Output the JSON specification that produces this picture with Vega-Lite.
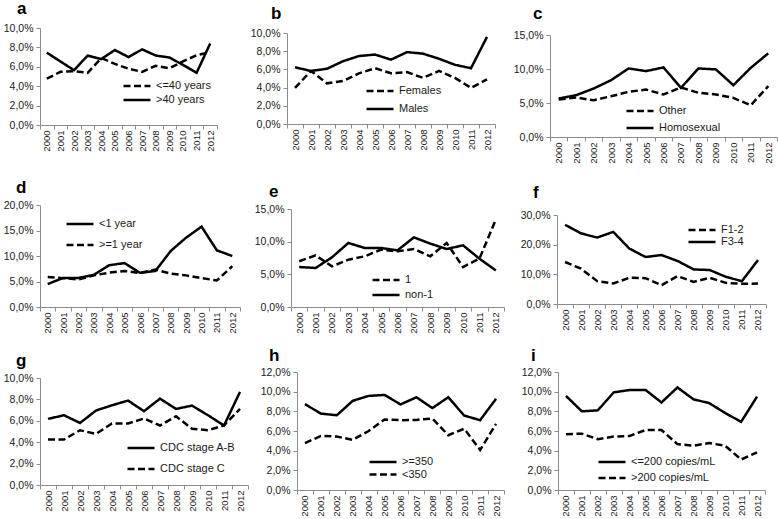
{
"$schema": "https://vega.github.io/schema/vega-lite/v6.json",
"padding": {"left": 0, "top": 0, "right": 0, "bottom": 0},
"background": "white",
"datasets": {
"a": [
{"year":2000,"g":">40 years","v":7.46},{"year":2001,"g":">40 years","v":6.55},{"year":2002,"g":">40 years","v":5.65},{"year":2003,"g":">40 years","v":7.16},{"year":2004,"g":">40 years","v":6.8},{"year":2005,"g":">40 years","v":7.73},{"year":2006,"g":">40 years","v":7.0},{"year":2007,"g":">40 years","v":7.8},{"year":2008,"g":">40 years","v":7.16},{"year":2009,"g":">40 years","v":6.96},{"year":2010,"g":">40 years","v":6.2},{"year":2011,"g":">40 years","v":5.38},{"year":2012,"g":">40 years","v":8.4},
{"year":2000,"g":"<=40 years","v":4.77},{"year":2001,"g":"<=40 years","v":5.48},{"year":2002,"g":"<=40 years","v":5.55},{"year":2003,"g":"<=40 years","v":5.38},{"year":2004,"g":"<=40 years","v":6.9},{"year":2005,"g":"<=40 years","v":6.3},{"year":2006,"g":"<=40 years","v":5.8},{"year":2007,"g":"<=40 years","v":5.48},{"year":2008,"g":"<=40 years","v":6.1},{"year":2009,"g":"<=40 years","v":5.85},{"year":2010,"g":"<=40 years","v":6.55},{"year":2011,"g":"<=40 years","v":7.2},{"year":2012,"g":"<=40 years","v":7.5}
],
"b": [
{"year":2000,"g":"Males","v":6.23},{"year":2001,"g":"Males","v":5.83},{"year":2002,"g":"Males","v":6.07},{"year":2003,"g":"Males","v":6.9},{"year":2004,"g":"Males","v":7.47},{"year":2005,"g":"Males","v":7.63},{"year":2006,"g":"Males","v":7.07},{"year":2007,"g":"Males","v":7.9},{"year":2008,"g":"Males","v":7.73},{"year":2009,"g":"Males","v":7.17},{"year":2010,"g":"Males","v":6.5},{"year":2011,"g":"Males","v":6.13},{"year":2012,"g":"Males","v":9.57},
{"year":2000,"g":"Females","v":3.97},{"year":2001,"g":"Females","v":5.83},{"year":2002,"g":"Females","v":4.47},{"year":2003,"g":"Females","v":4.73},{"year":2004,"g":"Females","v":5.57},{"year":2005,"g":"Females","v":6.13},{"year":2006,"g":"Females","v":5.57},{"year":2007,"g":"Females","v":5.7},{"year":2008,"g":"Females","v":5.07},{"year":2009,"g":"Females","v":5.83},{"year":2010,"g":"Females","v":5.07},{"year":2011,"g":"Females","v":3.97},{"year":2012,"g":"Females","v":4.9}
],
"c": [
{"year":2000,"g":"Homosexual","v":5.66},{"year":2001,"g":"Homosexual","v":6.15},{"year":2002,"g":"Homosexual","v":7.13},{"year":2003,"g":"Homosexual","v":8.36},{"year":2004,"g":"Homosexual","v":10.08},{"year":2005,"g":"Homosexual","v":9.69},{"year":2006,"g":"Homosexual","v":10.23},{"year":2007,"g":"Homosexual","v":7.23},{"year":2008,"g":"Homosexual","v":10.08},{"year":2009,"g":"Homosexual","v":9.94},{"year":2010,"g":"Homosexual","v":7.62},{"year":2011,"g":"Homosexual","v":10.18},{"year":2012,"g":"Homosexual","v":12.3},
{"year":2000,"g":"Other","v":5.5},{"year":2001,"g":"Other","v":5.8},{"year":2002,"g":"Other","v":5.4},{"year":2003,"g":"Other","v":6.0},{"year":2004,"g":"Other","v":6.64},{"year":2005,"g":"Other","v":6.98},{"year":2006,"g":"Other","v":6.25},{"year":2007,"g":"Other","v":7.28},{"year":2008,"g":"Other","v":6.5},{"year":2009,"g":"Other","v":6.25},{"year":2010,"g":"Other","v":5.75},{"year":2011,"g":"Other","v":4.67},{"year":2012,"g":"Other","v":7.48}
],
"d": [
{"year":2000,"g":"<1 year","v":4.5},{"year":2001,"g":"<1 year","v":5.7},{"year":2002,"g":"<1 year","v":5.7},{"year":2003,"g":"<1 year","v":6.3},{"year":2004,"g":"<1 year","v":8.2},{"year":2005,"g":"<1 year","v":8.6},{"year":2006,"g":"<1 year","v":6.7},{"year":2007,"g":"<1 year","v":7.07},{"year":2008,"g":"<1 year","v":11.0},{"year":2009,"g":"<1 year","v":13.6},{"year":2010,"g":"<1 year","v":15.76},{"year":2011,"g":"<1 year","v":11.1},{"year":2012,"g":"<1 year","v":10.0},
{"year":2000,"g":">=1 year","v":5.86},{"year":2001,"g":">=1 year","v":5.66},{"year":2002,"g":">=1 year","v":5.4},{"year":2003,"g":">=1 year","v":6.2},{"year":2004,"g":">=1 year","v":6.73},{"year":2005,"g":">=1 year","v":7.07},{"year":2006,"g":">=1 year","v":6.67},{"year":2007,"g":">=1 year","v":7.34},{"year":2008,"g":">=1 year","v":6.53},{"year":2009,"g":">=1 year","v":6.2},{"year":2010,"g":">=1 year","v":5.66},{"year":2011,"g":">=1 year","v":5.2},{"year":2012,"g":">=1 year","v":8.0}
],
"e": [
{"year":2000,"g":"non-1","v":6.12},{"year":2001,"g":"non-1","v":5.97},{"year":2002,"g":"non-1","v":7.6},{"year":2003,"g":"non-1","v":9.8},{"year":2004,"g":"non-1","v":9.03},{"year":2005,"g":"non-1","v":9.03},{"year":2006,"g":"non-1","v":8.67},{"year":2007,"g":"non-1","v":10.66},{"year":2008,"g":"non-1","v":9.7},{"year":2009,"g":"non-1","v":8.88},{"year":2010,"g":"non-1","v":9.44},{"year":2011,"g":"non-1","v":7.4},{"year":2012,"g":"non-1","v":5.6},
{"year":2000,"g":"1","v":7.0},{"year":2001,"g":"1","v":7.9},{"year":2002,"g":"1","v":6.22},{"year":2003,"g":"1","v":7.24},{"year":2004,"g":"1","v":7.76},{"year":2005,"g":"1","v":8.78},{"year":2006,"g":"1","v":8.52},{"year":2007,"g":"1","v":8.88},{"year":2008,"g":"1","v":7.76},{"year":2009,"g":"1","v":9.8},{"year":2010,"g":"1","v":6.12},{"year":2011,"g":"1","v":7.4},{"year":2012,"g":"1","v":13.37}
],
"f": [
{"year":2000,"g":"F3-4","v":26.7},{"year":2001,"g":"F3-4","v":23.8},{"year":2002,"g":"F3-4","v":22.4},{"year":2003,"g":"F3-4","v":24.3},{"year":2004,"g":"F3-4","v":18.7},{"year":2005,"g":"F3-4","v":15.85},{"year":2006,"g":"F3-4","v":16.5},{"year":2007,"g":"F3-4","v":14.5},{"year":2008,"g":"F3-4","v":11.66},{"year":2009,"g":"F3-4","v":11.44},{"year":2010,"g":"F3-4","v":9.17},{"year":2011,"g":"F3-4","v":7.7},{"year":2012,"g":"F3-4","v":14.8},
{"year":2000,"g":"F1-2","v":14.16},{"year":2001,"g":"F1-2","v":11.9},{"year":2002,"g":"F1-2","v":7.7},{"year":2003,"g":"F1-2","v":6.9},{"year":2004,"g":"F1-2","v":8.83},{"year":2005,"g":"F1-2","v":8.72},{"year":2006,"g":"F1-2","v":6.34},{"year":2007,"g":"F1-2","v":9.4},{"year":2008,"g":"F1-2","v":7.47},{"year":2009,"g":"F1-2","v":8.83},{"year":2010,"g":"F1-2","v":7.13},{"year":2011,"g":"F1-2","v":6.8},{"year":2012,"g":"F1-2","v":6.9}
],
"g": [
{"year":2000,"g":"CDC stage A-B","v":6.18},{"year":2001,"g":"CDC stage A-B","v":6.52},{"year":2002,"g":"CDC stage A-B","v":5.8},{"year":2003,"g":"CDC stage A-B","v":6.96},{"year":2004,"g":"CDC stage A-B","v":7.45},{"year":2005,"g":"CDC stage A-B","v":7.89},{"year":2006,"g":"CDC stage A-B","v":6.9},{"year":2007,"g":"CDC stage A-B","v":8.07},{"year":2008,"g":"CDC stage A-B","v":7.11},{"year":2009,"g":"CDC stage A-B","v":7.42},{"year":2010,"g":"CDC stage A-B","v":6.52},{"year":2011,"g":"CDC stage A-B","v":5.56},{"year":2012,"g":"CDC stage A-B","v":8.7},
{"year":2000,"g":"CDC stage C","v":4.25},{"year":2001,"g":"CDC stage C","v":4.25},{"year":2002,"g":"CDC stage C","v":5.12},{"year":2003,"g":"CDC stage C","v":4.78},{"year":2004,"g":"CDC stage C","v":5.75},{"year":2005,"g":"CDC stage C","v":5.75},{"year":2006,"g":"CDC stage C","v":6.21},{"year":2007,"g":"CDC stage C","v":5.56},{"year":2008,"g":"CDC stage C","v":6.43},{"year":2009,"g":"CDC stage C","v":5.25},{"year":2010,"g":"CDC stage C","v":5.12},{"year":2011,"g":"CDC stage C","v":5.56},{"year":2012,"g":"CDC stage C","v":7.11}
],
"h": [
{"year":2000,"g":">=350","v":8.73},{"year":2001,"g":">=350","v":7.77},{"year":2002,"g":">=350","v":7.6},{"year":2003,"g":">=350","v":9.07},{"year":2004,"g":">=350","v":9.57},{"year":2005,"g":">=350","v":9.67},{"year":2006,"g":">=350","v":8.7},{"year":2007,"g":">=350","v":9.43},{"year":2008,"g":">=350","v":8.33},{"year":2009,"g":">=350","v":9.43},{"year":2010,"g":">=350","v":7.57},{"year":2011,"g":">=350","v":7.1},{"year":2012,"g":">=350","v":9.27},
{"year":2000,"g":"<350","v":4.77},{"year":2001,"g":"<350","v":5.5},{"year":2002,"g":"<350","v":5.43},{"year":2003,"g":"<350","v":5.1},{"year":2004,"g":"<350","v":6.0},{"year":2005,"g":"<350","v":7.17},{"year":2006,"g":"<350","v":7.1},{"year":2007,"g":"<350","v":7.13},{"year":2008,"g":"<350","v":7.27},{"year":2009,"g":"<350","v":5.57},{"year":2010,"g":"<350","v":6.23},{"year":2011,"g":"<350","v":4.07},{"year":2012,"g":"<350","v":6.73}
],
"i": [
{"year":2000,"g":"<=200 copies/mL","v":9.57},{"year":2001,"g":"<=200 copies/mL","v":8.0},{"year":2002,"g":"<=200 copies/mL","v":8.1},{"year":2003,"g":"<=200 copies/mL","v":9.93},{"year":2004,"g":"<=200 copies/mL","v":10.17},{"year":2005,"g":"<=200 copies/mL","v":10.17},{"year":2006,"g":"<=200 copies/mL","v":8.9},{"year":2007,"g":"<=200 copies/mL","v":10.43},{"year":2008,"g":"<=200 copies/mL","v":9.23},{"year":2009,"g":"<=200 copies/mL","v":8.83},{"year":2010,"g":"<=200 copies/mL","v":7.83},{"year":2011,"g":"<=200 copies/mL","v":6.93},{"year":2012,"g":"<=200 copies/mL","v":9.5},
{"year":2000,"g":">200 copies/mL","v":5.67},{"year":2001,"g":">200 copies/mL","v":5.73},{"year":2002,"g":">200 copies/mL","v":5.17},{"year":2003,"g":">200 copies/mL","v":5.43},{"year":2004,"g":">200 copies/mL","v":5.5},{"year":2005,"g":">200 copies/mL","v":6.1},{"year":2006,"g":">200 copies/mL","v":6.1},{"year":2007,"g":">200 copies/mL","v":4.67},{"year":2008,"g":">200 copies/mL","v":4.5},{"year":2009,"g":">200 copies/mL","v":4.77},{"year":2010,"g":">200 copies/mL","v":4.5},{"year":2011,"g":">200 copies/mL","v":3.1},{"year":2012,"g":">200 copies/mL","v":3.83}
]
},
"spacing": 0,
"resolve": {"scale": {"strokeDash": "independent"}, "legend": {"strokeDash": "independent"}},
"vconcat": [
{"spacing": 0, "resolve": {"scale": {"strokeDash": "independent"}, "legend": {"strokeDash": "independent"}}, "hconcat": [
{"data":{"name":"a"},"width":177,"height":97,"title":{"text":"a","dx":-23,"offset":5},"mark":"line",
"encoding":{"x":{"field":"year","type":"ordinal","title":null,"scale":{"type":"band","paddingInner":0,"paddingOuter":0},"axis":{"minExtent":30}},
"y":{"field":"v","type":"quantitative","title":null,"scale":{"domain":[0,10],"nice":false,"range":[97,0]},"axis":{"values":[0,2,4,6,8,10],"labelExpr":"replace(format(datum.value, '.1f'), '.', ',') + '%'","minExtent":38,"maxExtent":38}},
"strokeDash":{"field":"g","type":"nominal","scale":{"domain":["<=40 years",">40 years"],"range":[[7,3.5],[1,0]]},"legend":{"legendX":82,"legendY":52.5,"rowPadding":2,"clipHeight":11,"symbolSize":729}}}},
{"data":{"name":"b"},"width":208,"height":96,"title":{"text":"b","dx":-16,"offset":5},"mark":"line",
"encoding":{"x":{"field":"year","type":"ordinal","title":null,"scale":{"type":"band","paddingInner":0,"paddingOuter":0},"axis":{"minExtent":30}},
"y":{"field":"v","type":"quantitative","title":null,"scale":{"domain":[0,10],"nice":false,"range":[96,5]},"axis":{"values":[0,2,4,6,8,10],"labelExpr":"replace(format(datum.value, '.1f'), '.', ',') + '%'","minExtent":69,"maxExtent":69}},
"strokeDash":{"field":"g","type":"nominal","scale":{"domain":["Females","Males"],"range":[[7,3.5],[1,0]]},"legend":{"legendX":78,"legendY":57.5,"rowPadding":6,"clipHeight":11,"symbolSize":729}}}},
{"data":{"name":"c"},"width":227,"height":109,"title":{"text":"c","dx":-17,"offset":5},"mark":"line",
"encoding":{"x":{"field":"year","type":"ordinal","title":null,"scale":{"type":"band","paddingInner":0,"paddingOuter":0},"axis":{"minExtent":40.5}},
"y":{"field":"v","type":"quantitative","title":null,"scale":{"domain":[0,15],"nice":false,"range":[109,7]},"axis":{"values":[0,5,10,15],"labelExpr":"replace(format(datum.value, '.1f'), '.', ',') + '%'","minExtent":54,"maxExtent":54}},
"strokeDash":{"field":"g","type":"nominal","scale":{"domain":["Other","Homosexual"],"range":[[7,3.5],[1,0]]},"legend":{"legendX":75,"legendY":77.5,"rowPadding":5,"clipHeight":11,"symbolSize":729}}}}
]},
{"spacing": 0, "resolve": {"scale": {"strokeDash": "independent"}, "legend": {"strokeDash": "independent"}}, "hconcat": [
{"data":{"name":"d"},"width":200,"height":102,"title":{"text":"d","dx":-24,"offset":3.5},"mark":"line",
"encoding":{"x":{"field":"year","type":"ordinal","title":null,"scale":{"type":"band","paddingInner":0,"paddingOuter":0},"axis":{"minExtent":40}},
"y":{"field":"v","type":"quantitative","title":null,"scale":{"domain":[0,20],"nice":false,"range":[102,0]},"axis":{"values":[0,5,10,15,20],"labelExpr":"replace(format(datum.value, '.1f'), '.', ',') + '%'","minExtent":40,"maxExtent":40}},
"strokeDash":{"field":"g","type":"nominal","scale":{"domain":["<1 year",">=1 year"],"range":[[1,0],[7,3.5]]},"legend":{"legendX":25,"legendY":13.5,"rowPadding":9,"clipHeight":11,"symbolSize":729}}}},
{"data":{"name":"e"},"width":213,"height":102,"title":{"text":"e","dx":-22,"offset":3.5},"mark":"line",
"encoding":{"x":{"field":"year","type":"ordinal","title":null,"scale":{"type":"band","paddingInner":0,"paddingOuter":0},"axis":{"minExtent":30}},
"y":{"field":"v","type":"quantitative","title":null,"scale":{"domain":[0,15],"nice":false,"range":[102,4]},"axis":{"values":[0,5,10,15],"labelExpr":"replace(format(datum.value, '.1f'), '.', ',') + '%'","minExtent":50,"maxExtent":50}},
"strokeDash":{"field":"g","type":"nominal","scale":{"domain":["1","non-1"],"range":[[7,3.5],[1,0]]},"legend":{"legendX":80,"legendY":69.5,"rowPadding":3,"clipHeight":11,"symbolSize":729}}}},
{"data":{"name":"f"},"width":209,"height":99,"title":{"text":"f","dx":-24,"offset":3.5},"mark":"line",
"encoding":{"x":{"field":"year","type":"ordinal","title":null,"scale":{"type":"band","paddingInner":0,"paddingOuter":0},"axis":{"minExtent":30}},
"y":{"field":"v","type":"quantitative","title":null,"scale":{"domain":[0,30],"nice":false,"range":[99,10]},"axis":{"values":[0,10,20,30],"labelExpr":"replace(format(datum.value, '.1f'), '.', ',') + '%'","minExtent":52,"maxExtent":52}},
"strokeDash":{"field":"g","type":"nominal","scale":{"domain":["F1-2","F3-4"],"range":[[7,3.5],[1,0]]},"legend":{"legendX":130,"legendY":19.5,"rowPadding":0,"clipHeight":11,"symbolSize":729}}}}
]},
{"spacing": 0, "resolve": {"scale": {"strokeDash": "independent"}, "legend": {"strokeDash": "independent"}}, "hconcat": [
{"data":{"name":"g"},"width":208,"height":113,"title":{"text":"g","dx":-24,"offset":2},"mark":"line",
"encoding":{"x":{"field":"year","type":"ordinal","title":null,"scale":{"type":"band","paddingInner":0,"paddingOuter":0},"axis":{"minExtent":20}},
"y":{"field":"v","type":"quantitative","title":null,"scale":{"domain":[0,10],"nice":false,"range":[113,6]},"axis":{"values":[0,2,4,6,8,10],"labelExpr":"replace(format(datum.value, '.1f'), '.', ',') + '%'","minExtent":40,"maxExtent":40}},
"strokeDash":{"field":"g","type":"nominal","scale":{"domain":["CDC stage A-B","CDC stage C"],"range":[[1,0],[7,3.5]]},"legend":{"legendX":86,"legendY":70.5,"rowPadding":9,"clipHeight":11,"symbolSize":729}}}},
{"data":{"name":"h"},"width":207,"height":118,"title":{"text":"h","dx":-28,"offset":2},"mark":"line",
"encoding":{"x":{"field":"year","type":"ordinal","title":null,"scale":{"type":"band","paddingInner":0,"paddingOuter":0},"axis":{"minExtent":20}},
"y":{"field":"v","type":"quantitative","title":null,"scale":{"domain":[0,12],"nice":false,"range":[118,0]},"axis":{"values":[0,2,4,6,8,10,12],"labelExpr":"replace(format(datum.value, '.1f'), '.', ',') + '%'","minExtent":48,"maxExtent":48}},
"strokeDash":{"field":"g","type":"nominal","scale":{"domain":[">=350","<350"],"range":[[1,0],[7,3.5]]},"legend":{"legendX":71,"legendY":84.5,"rowPadding":0.5,"clipHeight":11,"symbolSize":729}}}},
{"data":{"name":"i"},"width":207,"height":118,"title":{"text":"i","dx":-27,"offset":2},"mark":"line",
"encoding":{"x":{"field":"year","type":"ordinal","title":null,"scale":{"type":"band","paddingInner":0,"paddingOuter":0},"axis":{"minExtent":20}},
"y":{"field":"v","type":"quantitative","title":null,"scale":{"domain":[0,12],"nice":false,"range":[118,0]},"axis":{"values":[0,2,4,6,8,10,12],"labelExpr":"replace(format(datum.value, '.1f'), '.', ',') + '%'","minExtent":53,"maxExtent":53}},
"strokeDash":{"field":"g","type":"nominal","scale":{"domain":["<=200 copies/mL",">200 copies/mL"],"range":[[1,0],[7,3.5]]},"legend":{"legendX":39,"legendY":84.5,"rowPadding":4,"clipHeight":11,"symbolSize":729}}}}
]}
],
"config": {
"view": {"stroke": null},
"font": "Liberation Sans",
"line": {"color": "black", "strokeWidth": 2.5},
"axis": {"domainColor": "#8c8c8c", "tickColor": "#8c8c8c", "labelColor": "#1a1a1a", "labelFont": "Liberation Sans", "labelFontSize": 10.5, "grid": false, "domainWidth": 1, "tickWidth": 1, "tickSize": 4},
"axisX": {"labelAngle": 270, "tickBand": "extent", "labelPadding": 1, "labelFontSize": 9.5},
"axisY": {"labelPadding": 3},
"legend": {"orient": "none", "title": null, "symbolType": "stroke", "symbolSize": 729, "symbolStrokeWidth": 2.5, "symbolStrokeColor": "black", "labelFont": "Liberation Sans", "labelFontSize": 11, "labelColor": "#1a1a1a", "labelOffset": 4, "padding": 0},
"title": {"anchor": "start", "frame": "group", "fontSize": 17, "font": "Liberation Sans", "fontWeight": "bold", "color": "black"}
}
}
